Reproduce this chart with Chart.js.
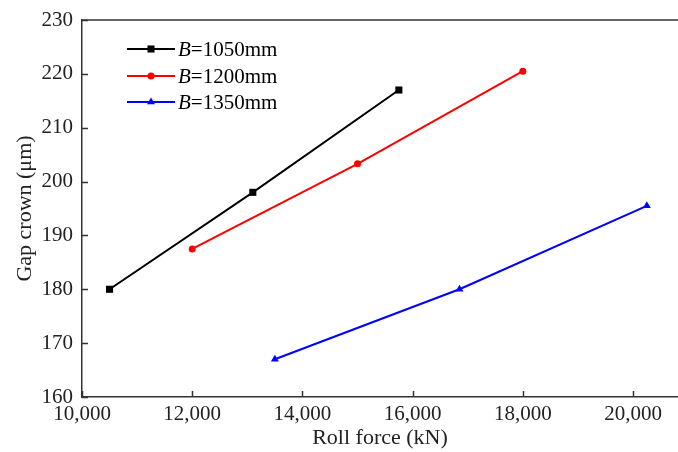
<!DOCTYPE html>
<html>
<head>
<meta charset="utf-8">
<script src="https://cdn.jsdelivr.net/npm/chart.js@4/dist/chart.umd.min.js"></script>
<style>
    html, body { margin: 0; padding: 0; background: #fff; }
    canvas { display: block; }
</style>
</head>
<body>
<canvas id="chart" width="678" height="452"></canvas>
<script>
// ─────────────────────────────────────────────
//  Datos
// ─────────────────────────────────────────────
const seriesNames = ['1050mm', '1200mm', '1350mm'];

const force1050 = [10500, 13100, 15750];
const crown1050 = [180, 198, 217];

const force1200 = [12000, 15000, 18000];
const crown1200 = [187.5, 203.3, 220.5];

const force1350 = [13500, 16850, 20250];
const crown1350 = [167, 180, 195.5];

const xTicks = [10000, 12000, 14000, 16000, 18000, 20000];
const yTicks = [160, 170, 180, 190, 200, 210, 220, 230];

const AXIS = '#333';
const SERIF = '"Liberation Serif", "Times New Roman", serif';

const toPoints = (xs, ys) => xs.map((x, i) => ({ x, y: ys[i] }));

const estilos = [
    { color: '#000000', punto: 'rect',     radio: 5 },
    { color: '#ff0000', punto: 'circle',   radio: 3.5 },
    { color: '#0000ff', punto: 'triangle', radio: 4.6 },
];

const datasets = [
    toPoints(force1050, crown1050),
    toPoints(force1200, crown1200),
    toPoints(force1350, crown1350),
].map((data, i) => ({
    label: 'B=' + seriesNames[i],
    data,
    borderColor: estilos[i].color,
    backgroundColor: estilos[i].color,
    borderWidth: 2,
    pointStyle: estilos[i].punto,
    pointRadius: estilos[i].radio,
    pointBorderWidth: 0,
    pointHoverRadius: estilos[i].radio,
    showLine: true,
    fill: false,
    tension: 0,
}));

// Marco superior, ticks hacia adentro y leyenda con "B" en cursiva
const marcoPlugin = {
    id: 'marco',
    afterDraw(chart) {
        const { ctx, chartArea: a, scales } = chart;
        ctx.save();
        ctx.strokeStyle = AXIS;
        ctx.lineWidth = 1.5;

        ctx.beginPath();
        ctx.moveTo(a.left, a.top);
        ctx.lineTo(a.right, a.top);
        ctx.stroke();

        ctx.beginPath();
        xTicks.forEach(v => {
            const px = Math.round(scales.x.getPixelForValue(v)) + 0.5;
            ctx.moveTo(px, a.bottom);
            ctx.lineTo(px, a.bottom - 6);
        });
        yTicks.forEach(v => {
            const py = Math.round(scales.y.getPixelForValue(v)) + 0.5;
            ctx.moveTo(a.left, py);
            ctx.lineTo(a.left + 6, py);
        });
        ctx.stroke();

        // leyenda
        const filas = [49, 76, 102];
        chart.data.datasets.forEach((ds, i) => {
            const y = filas[i];
            ctx.strokeStyle = ds.borderColor;
            ctx.lineWidth = 2;
            ctx.beginPath();
            ctx.moveTo(127, y);
            ctx.lineTo(175, y);
            ctx.stroke();

            ctx.fillStyle = ds.borderColor;
            Chart.helpers.drawPoint(ctx, {
                pointStyle: ds.pointStyle,
                radius: ds.pointRadius,
                borderWidth: 0,
                rotation: 0,
            }, 151, y);

            ctx.fillStyle = '#000';
            ctx.textBaseline = 'middle';
            ctx.textAlign = 'left';
            ctx.font = 'italic 21px ' + SERIF;
            ctx.fillText('B', 178, y + 1);
            const w = ctx.measureText('B').width;
            ctx.font = '21px ' + SERIF;
            ctx.fillText('=' + seriesNames[i], 178 + w, y + 1);
        });
        ctx.restore();
    }
};

new Chart(document.getElementById('chart'), {
    type: 'scatter',
    data: { datasets },
    plugins: [marcoPlugin],
    options: {
        responsive: false,
        animation: false,
        devicePixelRatio: 1,
        layout: { autoPadding: false, padding: { top: 20, right: 0, left: 0, bottom: 0 } },
        plugins: {
            legend: { display: false },
            tooltip: { enabled: false },
        },
        scales: {
            x: {
                type: 'linear',
                min: 10000,
                max: 20816,
                afterBuildTicks: s => { s.ticks = xTicks.map(value => ({ value })); },
                afterFit: s => { s.height = 55; s.paddingRight = 0; s.paddingLeft = 0; },
                grid: { drawOnChartArea: false, drawTicks: false },
                border: { display: true, color: AXIS, width: 1.5 },
                ticks: {
                    padding: 5,
                    color: '#222',
                    maxRotation: 0,
                    font: { family: SERIF, size: 21 },
                    callback: v => v.toLocaleString('en-US'),
                },
                title: {
                    display: true,
                    text: 'Roll force (kN)',
                    color: '#222',
                    font: { family: SERIF, size: 22, lineHeight: 1.2 },
                    padding: { top: 0, bottom: 1 },
                },
            },
            y: {
                min: 160,
                max: 230,
                afterBuildTicks: s => { s.ticks = yTicks.map(value => ({ value })); },
                afterFit: s => { s.width = 82; s.paddingTop = 0; s.paddingBottom = 0; },
                grid: { drawOnChartArea: false, drawTicks: false },
                border: { display: true, color: AXIS, width: 1.5 },
                ticks: {
                    padding: 9,
                    color: '#222',
                    font: { family: SERIF, size: 21 },
                },
                title: {
                    display: true,
                    text: 'Gap crown (μm)',
                    color: '#222',
                    font: { family: SERIF, size: 22, lineHeight: 1.2 },
                    padding: { top: 12, bottom: 0 },
                },
            },
        },
    },
});
</script>
</body>
</html>
